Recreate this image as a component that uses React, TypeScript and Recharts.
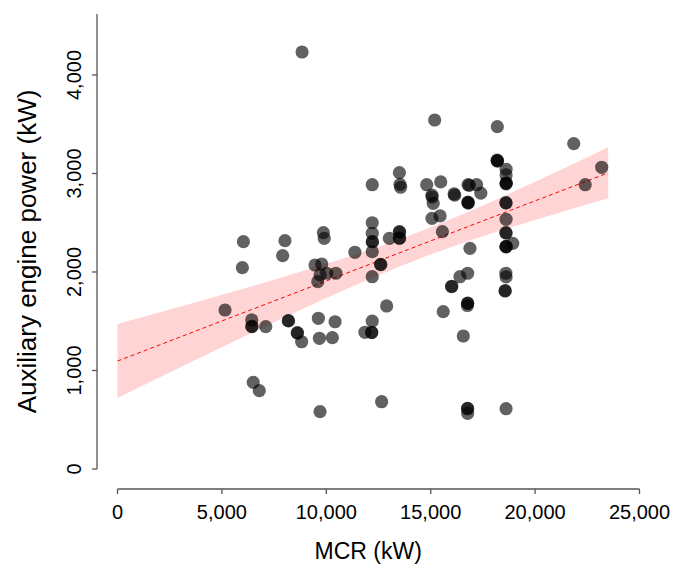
import React from 'react';
import { ComposedChart, Scatter, Line, Area, XAxis, YAxis, ReferenceLine } from 'recharts';

// Scatter points: MCR (kW) and auxiliary engine power (kW)
const mcr = [
  8840, 15190, 18190, 21850, 23190, 22400, 13500, 12200, 13530, 13560,
  14810, 15480, 15060, 15070, 15120, 16120, 16150, 16790, 16850, 17200,
  17400, 16790, 16800, 16780, 15060, 15450, 12200, 18190, 18200, 18180,
  18610, 18610, 18610, 18620, 18610, 18600, 18610, 18610, 18600, 18930,
  18610, 18600, 18620, 18610, 18600, 18610, 18560, 18570, 18610, 16880,
  16770, 16400, 16000, 16010, 16770, 16760, 16770, 15600, 16560, 16770,
  16760, 16770, 12650, 9700, 8020, 7910, 9860, 9900, 12200, 12200,
  12210, 12200, 11370, 13020, 13500, 13510, 13500, 13510, 15560, 9460,
  9780, 9700, 10020, 10460, 9590, 12600, 12610, 12200, 12890, 8180,
  8190, 8610, 8620, 8820, 9620, 10420, 9670, 10290, 12200, 11850,
  12170, 12180, 6030, 5980, 5150, 6430, 6430, 6440, 7100, 6500, 6790,
];
const auxPower = [
  4233, 3543, 3475, 3303, 3063, 2886, 3008, 2886, 2890, 2860,
  2886, 2914, 2780, 2760, 2697, 2792, 2780, 2886, 2880, 2886,
  2800, 2704, 2700, 2710, 2545, 2569, 2500, 3130, 3125, 3135,
  3043, 2985, 2900, 2905, 2895, 2704, 2700, 2535, 2399, 2291,
  2395, 2257, 2260, 2255, 1987, 1950, 1807, 1810, 612, 2240,
  1987, 1952, 1851, 1855, 1682, 1660, 1685, 1597, 1350, 616,
  612, 565, 683, 582, 2318, 2166, 2399, 2342, 2393, 2308,
  2305, 2206, 2200, 2342, 2409, 2405, 2342, 2345, 2409, 2071,
  2081, 1970, 1987, 1987, 1902, 2078, 2075, 1952, 1655, 1506,
  1503, 1384, 1380, 1292, 1530, 1495, 1327, 1333, 1502, 1388,
  1388, 1385, 2308, 2044, 1614, 1513, 1445, 1448, 1445, 880, 795,
];

// Fitted regression line and confidence band
const fitX = [0, 2500, 5000, 7500, 10000, 12500, 14400, 17500, 20000, 23500];
const fitY = [1096, 1299, 1503, 1706, 1909, 2112, 2267, 2519, 2722, 3007];
const ciLow = [721, 980, 1237, 1490, 1735, 1967, 2130, 2363, 2529, 2748];
const ciHigh = [1471, 1618, 1769, 1922, 2083, 2257, 2404, 2675, 2915, 3266];

const xTicks = [0, 5000, 10000, 15000, 20000, 25000];
const yTicks = [0, 1000, 2000, 3000, 4000];

const points = mcr.map((x, i) => ({ x, y: auxPower[i] }));
const fitData = fitX.map((x, i) => ({ x, fit: fitY[i], band: [ciLow[i], ciHigh[i]] }));

const FONT = 'Liberation Sans, Arial, sans-serif';
const AXIS = '#555555';
const X_MIN = -982;
const Y_MIN = -203;
const Y_MAX = 4619;

const fmt = (v: number) => v.toLocaleString('en-US');

const YTick = (p: any) => {
  const x = p.x - 16;
  const y = p.y;
  return (
    <text
      x={x}
      y={y}
      transform={`rotate(-90 ${x} ${y})`}
      textAnchor="middle"
      dominantBaseline="central"
      fontSize={20}
      fontFamily={FONT}
      fill="#000"
    >
      {fmt(p.payload.value)}
    </text>
  );
};

const Dot = (p: any) => (
  <circle cx={p.cx} cy={p.cy} r={6.6} fill="#000" fillOpacity={0.62} />
);

export default function App() {
  return (
    <div style={{ position: 'absolute', left: 0, top: 0, background: '#fff' }}>
      <ComposedChart
        width={673}
        height={568}
        margin={{ top: 14, right: 33.5, left: 0, bottom: 0 }}
      >
        <XAxis
          dataKey="x"
          type="number"
          domain={[X_MIN, 25000]}
          ticks={xTicks}
          tickFormatter={fmt}
          allowDataOverflow
          axisLine={false}
          tickLine={{ stroke: AXIS, strokeWidth: 1.3 }}
          tickSize={5}
          tickMargin={11}
          height={79}
          tick={{ fontSize: 20, fill: '#000', fontFamily: FONT }}
          label={{ value: 'MCR (kW)', position: 'insideBottom', offset: 9, fontSize: 23, fill: '#000', fontFamily: FONT }}
        />
        <YAxis
          type="number"
          domain={[Y_MIN, Y_MAX]}
          ticks={yTicks}
          allowDataOverflow
          axisLine={false}
          tickLine={{ stroke: AXIS, strokeWidth: 1.3 }}
          tickSize={5}
          width={97}
          tick={<YTick />}
          label={{
            value: 'Auxiliary engine power (kW)',
            angle: -90,
            position: 'insideLeft',
            offset: 27,
            fontSize: 26,
            fill: '#000',
            fontFamily: FONT,
            style: { textAnchor: 'middle' },
          }}
        />
        <ReferenceLine
          segment={[{ x: 0, y: Y_MIN }, { x: 25000, y: Y_MIN }]}
          stroke={AXIS}
          strokeWidth={1.3}
          ifOverflow="visible"
        />
        <ReferenceLine
          segment={[{ x: X_MIN, y: 0 }, { x: X_MIN, y: Y_MAX }]}
          stroke={AXIS}
          strokeWidth={1.3}
          ifOverflow="visible"
        />
        <Area
          data={fitData}
          dataKey="band"
          type="monotone"
          stroke="none"
          fill="#ff0000"
          fillOpacity={0.17}
          isAnimationActive={false}
          activeDot={false}
          dot={false}
        />
        <Scatter data={points} dataKey="y" shape={<Dot />} isAnimationActive={false} />
        <Line
          data={fitData}
          dataKey="fit"
          type="linear"
          stroke="#ff0000"
          strokeWidth={1}
          strokeDasharray="4 3"
          dot={false}
          activeDot={false}
          isAnimationActive={false}
        />
      </ComposedChart>
    </div>
  );
}
